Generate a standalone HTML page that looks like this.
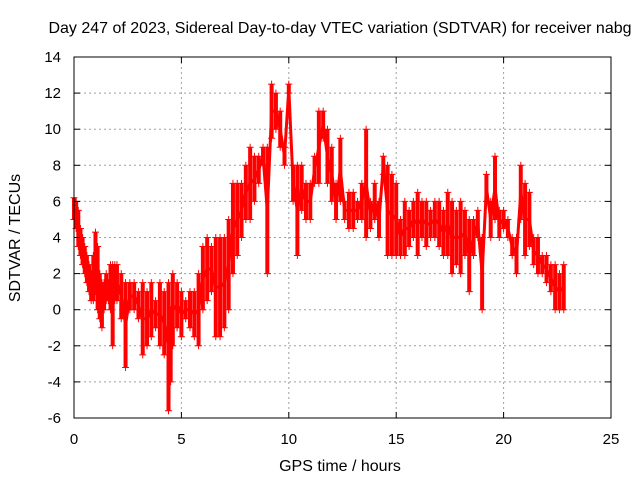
<!DOCTYPE html>
<html><head><meta charset="utf-8"><style>
body{margin:0;background:#fff}
svg{display:block;font-family:"Liberation Sans",sans-serif}
</style></head><body>
<svg id="chart" width="640" height="480">
<rect width="640" height="480" fill="#fff"/>
<text x="340" y="33" font-size="16" text-anchor="middle">Day 247 of 2023, Sidereal Day-to-day VTEC variation (SDTVAR) for receiver nabg</text>
<text x="340" y="471" font-size="16" text-anchor="middle">GPS time / hours</text>
<text transform="translate(20,238) rotate(-90)" font-size="16" text-anchor="middle">SDTVAR / TECUs</text>
<g id="grid"></g><g id="marks"></g>
<rect x="74" y="57" width="537" height="361" fill="none" stroke="#000" stroke-width="1"/>
<g id="ticks"></g>
</svg>
<script>
const xTicks=[0,5,10,15,20,25];
const yTicks=[-6,-4,-2,0,2,4,6,8,10,12,14];
const times=[0,0.1,0.2,0.3,0.4,0.5,0.6,0.7,0.8,0.9,1.0,1.1,1.2,1.3,1.4,1.5,1.6,1.7,1.8,1.9,2.0,2.2,2.4,2.6,2.8,3.0,3.2,3.4,3.6,3.8,4.0,4.2,4.4,4.5,4.6,4.8,5.0,5.2,5.4,5.6,5.8,6.0,6.2,6.4,6.6,6.8,7.0,7.2,7.4,7.6,7.8,8.0,8.2,8.4,8.6,8.8,9.0,9.2,9.4,9.6,9.8,10.0,10.2,10.4,10.6,10.8,11.0,11.2,11.4,11.6,11.8,12.0,12.2,12.4,12.6,12.8,13.0,13.2,13.4,13.6,13.8,14.0,14.2,14.4,14.6,14.8,15.0,15.2,15.4,15.6,15.8,16.0,16.2,16.4,16.6,16.8,17.0,17.2,17.4,17.6,17.8,18.0,18.2,18.4,18.6,18.8,19.0,19.2,19.4,19.6,19.8,20.0,20.2,20.4,20.6,20.8,21.0,21.2,21.4,21.6,21.8,22.0,22.2,22.4,22.6,22.8];
const lowVals=[5,4.5,3.5,3,2.5,2,1.5,1,0.5,0.5,1,0,-0.5,-1,0,0.5,0.5,0,-2,0.5,0.5,-0.5,-3.2,0,0,-0.5,-2.5,-2,-1.5,-1,-2,-2.5,-5.6,-4,-2,-1,-1.5,-0.5,-1,-1.5,-2,0,0.5,1,-1.5,-1.5,-1,0,2,3,4,5,5,6,7,8,2,9.5,10,9,8,12,6,3,5.5,5,5,7,7,9.5,7,6,5,6,5,4.5,4.5,5,5,4,4.5,5,4,7.5,3,3,3,3,3,3.5,4,3,4,3.5,4,4,3.5,3,3,2,2.5,2,3,1,3,4,0,6,4,5,4,4.5,4,3,2,5,3,3.5,2.5,2,2,1.5,1,0,0,0];
const highVals=[6.2,6,5.5,4.5,4,3.5,3,2.5,2,3,4.3,3.5,2,1.5,1.5,2,1.5,2.5,2.5,2.5,2.5,2,1.5,1.5,1.5,1,1.5,1,1.5,0.5,1.5,1,1.5,0,2,1.5,1,0.5,1,1,2,3.5,4,3.5,4,4,4,5,7,7,7,8,9,8.5,8.5,9,9,12.5,12,11,9,12.5,8,8,8,7,7,8.5,11,11,10,9,7,9.5,6,6.5,6.5,6,7,10,6,7,6,8.5,8,7.5,7,5,6,5.5,6,6.5,6,6,5.5,6,6,5.5,6.5,6,5.5,6,5.5,5,5,5.5,4,7.5,6,8.5,5.5,5.5,5,4,4,8,7,6.5,4,4,3,3,2.5,2.5,2,2.5];
const X0=74,X1=611,Y0=418,Y1=57;
const xs=v=>X0+(v-0)/(25-0)*(X1-X0);
const ys=v=>Y0-(v+6)/(14+6)*(Y0-Y1);
const NS="http://www.w3.org/2000/svg";
function mk(tag,attrs,parent){const e=document.createElementNS(NS,tag);for(const k in attrs)e.setAttribute(k,attrs[k]);parent.appendChild(e);return e;}
const grid=document.getElementById('grid'),ticks=document.getElementById('ticks'),marks=document.getElementById('marks');
xTicks.forEach(t=>{const x=xs(t);
 if(t>0&&t<25){const g=mk('line',{x1:x,x2:x,y1:Y1,y2:Y0,stroke:'#a0a0a0','stroke-dasharray':'2,3'},grid);
 
 }
 const l=mk('text',{x:x,y:444,'font-size':15,'text-anchor':'middle'},ticks);l.textContent=t;
 
 
 mk('line',{x1:x,x2:x,y1:Y0,y2:Y0-6,stroke:'#000'},ticks);mk('line',{x1:x,x2:x,y1:Y1,y2:Y1+6,stroke:'#000'},ticks);});
yTicks.forEach(t=>{const y=ys(t);
 if(t>-6&&t<14){const g=mk('line',{x1:X0,x2:X1,y1:y,y2:y,stroke:'#a0a0a0','stroke-dasharray':'2,3'},grid);
 
 }
 const l=mk('text',{x:61,y:y+5,'font-size':15,'text-anchor':'end'},ticks);l.textContent=t;
 
 
 mk('line',{x1:X0,x2:X0+6,y1:y,y2:y,stroke:'#000'},ticks);mk('line',{x1:X1,x2:X1-6,y1:y,y2:y,stroke:'#000'},ticks);});
function plus(x,y){const p=mk('path',{d:`M${x-3.5},${y}h7M${x},${y-3.5}v7`,stroke:'#f00','stroke-width':1},marks);
 
 }
times.forEach((t,i)=>{const x=xs(t),a=ys(lowVals[i]),b=ys(highVals[i]);
 const r=mk('line',{x1:x,x2:x,y1:a,y2:b,stroke:'#f00','stroke-width':4},marks);
 
 
 plus(x,a);plus(x,b);
 if(i<times.length-1){const c=mk('line',{x1:x,x2:xs(times[i+1]),y1:(a+b)/2,y2:(ys(lowVals[i+1])+ys(highVals[i+1]))/2,stroke:'#f00','stroke-width':3},marks);
 
 }
});
</script>
</body></html>
